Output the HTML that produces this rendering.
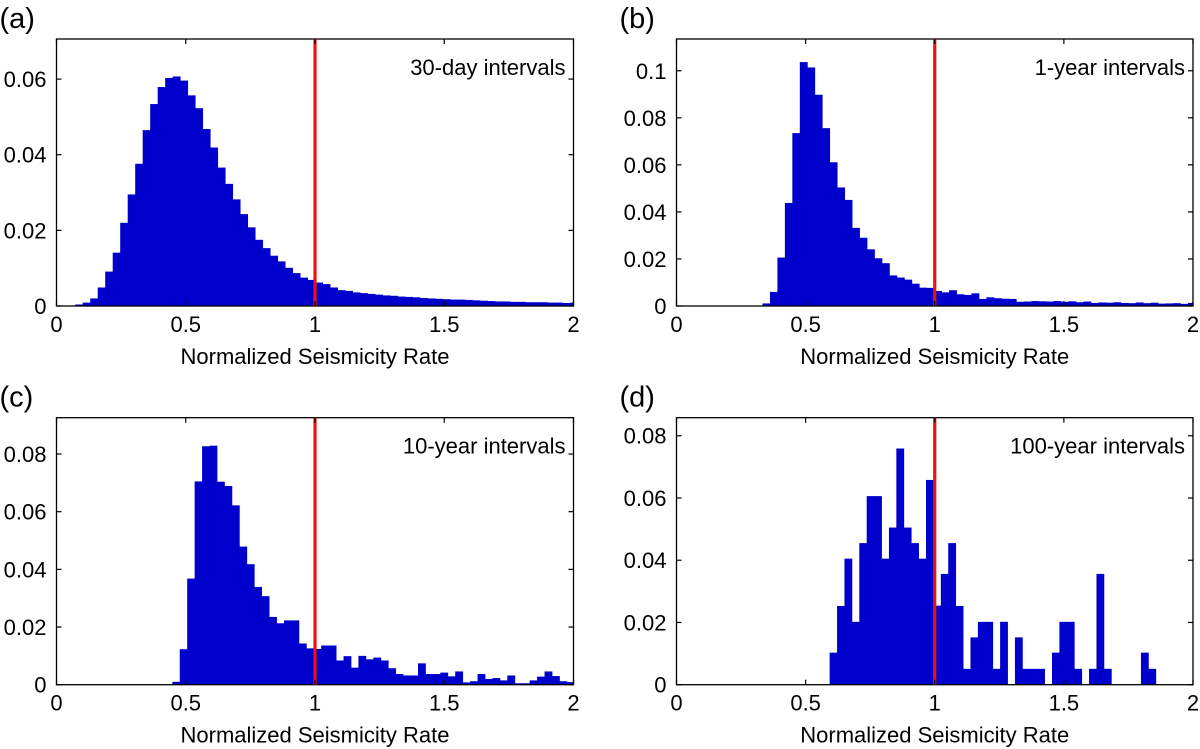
<!DOCTYPE html>
<html><head><meta charset="utf-8"><style>
html,body{margin:0;padding:0;background:#fff;}
svg{display:block;font-family:"Liberation Sans",Arial,sans-serif;}
</style></head><body>
<svg id="fig" width="1200" height="749" viewBox="0 0 1200 749"></svg>
<script>
// Panel (a) 30-day
const aStart = 0.0724, aWidth = 0.029;
const aValues = [0.0004,0.0009,0.002,0.0049,0.0091,0.0141,0.022,0.0295,0.0376,0.0465,0.0534,0.0579,0.0603,0.0607,0.0596,0.0557,0.0523,0.0468,0.0419,0.0366,0.0323,0.0282,0.0243,0.0208,0.0175,0.0153,0.0133,0.0118,0.0101,0.0087,0.0075,0.0069,0.0062,0.0058,0.0049,0.0042,0.004,0.0036,0.0034,0.0032,0.003,0.0028,0.0027,0.0025,0.0024,0.0023,0.0021,0.002,0.0019,0.0018,0.0017,0.0017,0.0016,0.0015,0.0014,0.0013,0.0012,0.0012,0.0011,0.0011,0.001,0.001,0.001,0.0009,0.0009,0.0008,0.0009];
const aYTicks = [0,0.02,0.04,0.06];
// Panel (b) 1-year
const bStart = 0.333, bWidth = 0.0289;
const bValues = [0.0011,0.006,0.0206,0.0438,0.0735,0.1037,0.1014,0.0898,0.0756,0.0611,0.0504,0.0451,0.0332,0.029,0.0241,0.0203,0.0182,0.013,0.0121,0.0112,0.0095,0.0078,0.0077,0.0064,0.0058,0.0067,0.005,0.0047,0.0054,0.003,0.0037,0.0033,0.0031,0.003,0.0018,0.0019,0.0021,0.002,0.0019,0.0021,0.0018,0.002,0.0016,0.0019,0.0013,0.0015,0.0014,0.0016,0.0013,0.0012,0.0015,0.0012,0.0014,0.001,0.0011,0.0012,0.0009,0.0013];
const bYTicks = [0,0.02,0.04,0.06,0.08,0.1];
// Panel (c) 10-year
const cStart = 0.448, cWidth = 0.0288;
const cValues = [0.001,0.0123,0.0368,0.0705,0.0827,0.0829,0.0704,0.0689,0.0622,0.0479,0.0418,0.0339,0.0307,0.0235,0.0213,0.0223,0.0223,0.0143,0.0126,0.0124,0.0136,0.0136,0.0084,0.0099,0.0059,0.01,0.0088,0.0094,0.0084,0.0057,0.0037,0.0032,0.0032,0.0074,0.0037,0.0037,0.0042,0.0029,0.0046,0.0008,0.0012,0.0037,0.002,0.0023,0.0015,0.0032,0.0005,0.0005,0.0015,0.0028,0.0046,0.003,0.0012,0.0009];
const cYTicks = [0,0.02,0.04,0.06,0.08];
// Panel (d) 100-year
const dStart = 0.593, dWidth = 0.0287;
const dValues = [0.0103,0.0253,0.0405,0.0202,0.0455,0.0606,0.0606,0.0405,0.0505,0.0759,0.0505,0.0455,0.0405,0.0658,0.0254,0.0356,0.0455,0.0253,0.0051,0.0152,0.0202,0.0202,0.0051,0.0202,0,0.0152,0.0051,0.0051,0.0051,0,0.0103,0.0202,0.0202,0.0051,0,0.0051,0.0356,0.0051,0,0,0,0,0.0103,0.0051];
const dYTicks = [0,0.02,0.04,0.06,0.08];
const xTicks = [0,0.5,1,1.5,2];
const xTickLabels = ["0","0.5","1","1.5","2"];

const NS = "http://www.w3.org/2000/svg";
const svg = document.getElementById('fig');
function mk(tag, attrs, parent){
  const e = document.createElementNS(NS, tag);
  for (const k in attrs) e.setAttribute(k, attrs[k]);
  (parent||svg).appendChild(e);
  return e;
}
function panel(id, letter, L, R, T, B, ymax, start, width, values, yTicks, label){
  const g = mk('g', {});
  
  
  const sx = v => L + (v/2)*(R-L);
  const sy = v => B - (v/ymax)*(B-T);
  values.forEach((v,i) => {
    if (v <= 0) return;
    const x0 = sx(start + i*width), x1 = sx(start + (i+1)*width);
    const r = mk('rect', {x:x0, y:sy(v), width:Math.max(0,Math.min(x1,R)-x0)+0.4, height:B-sy(v), fill:'#0000cc'}, g);
    
    
  });
  const box = mk('rect', {x:L, y:T, width:R-L, height:B-T, fill:'none', stroke:'#000', 'stroke-width':1.3}, g);
  
  
  const rl = mk('line', {x1:sx(1), x2:sx(1), y1:T, y2:B, stroke:'#ee1111', 'stroke-width':3.2}, g);
  
  
  xTicks.forEach((t,i) => {
    const x = sx(t);
    mk('line', {x1:x,x2:x,y1:B,y2:B-5,stroke:'#000','stroke-width':1.2}, g);
    mk('line', {x1:x,x2:x,y1:T,y2:T+5,stroke:'#000','stroke-width':1.2}, g);
    const tx = mk('text', {x:x, y:B+26, 'font-size':22, 'text-anchor':'middle', fill:'#000'}, g);
    tx.textContent = xTickLabels[i];
    
    
  });
  yTicks.forEach(t => {
    const y = sy(t);
    mk('line', {x1:L,x2:L+5,y1:y,y2:y,stroke:'#000','stroke-width':1.2}, g);
    mk('line', {x1:R,x2:R-5,y1:y,y2:y,stroke:'#000','stroke-width':1.2}, g);
    const ty = mk('text', {x:L-10, y:y+8, 'font-size':22, 'text-anchor':'end', fill:'#000'}, g);
    ty.textContent = String(t);
    
    
  });
  const lt = mk('text', {x:R-8, y:T+36, 'font-size':22, 'text-anchor':'end', fill:'#000'}, g);
  lt.textContent = label;
  
  
  const pl = mk('text', {x:L-57, y:T-11, 'font-size':29, fill:'#000'}, g);
  pl.textContent = letter;
  
  
  const xt = mk('text', {x:(L+R)/2, y:B+58, 'font-size':22, 'text-anchor':'middle', fill:'#000'}, g);
  xt.textContent = 'Normalized Seismicity Rate';
  
  
}
panel('a','(a)',56.5,573.5,39,306,0.0706,aStart,aWidth,aValues,aYTicks,'30-day intervals');
panel('b','(b)',676.5,1193,39,306,0.1135,bStart,bWidth,bValues,bYTicks,'1-year intervals');
panel('c','(c)',56.5,573.5,417.7,684.7,0.0926,cStart,cWidth,cValues,cYTicks,'10-year intervals');
panel('d','(d)',676.5,1193,417.7,684.7,0.0858,dStart,dWidth,dValues,dYTicks,'100-year intervals');
</script>
</body></html>
